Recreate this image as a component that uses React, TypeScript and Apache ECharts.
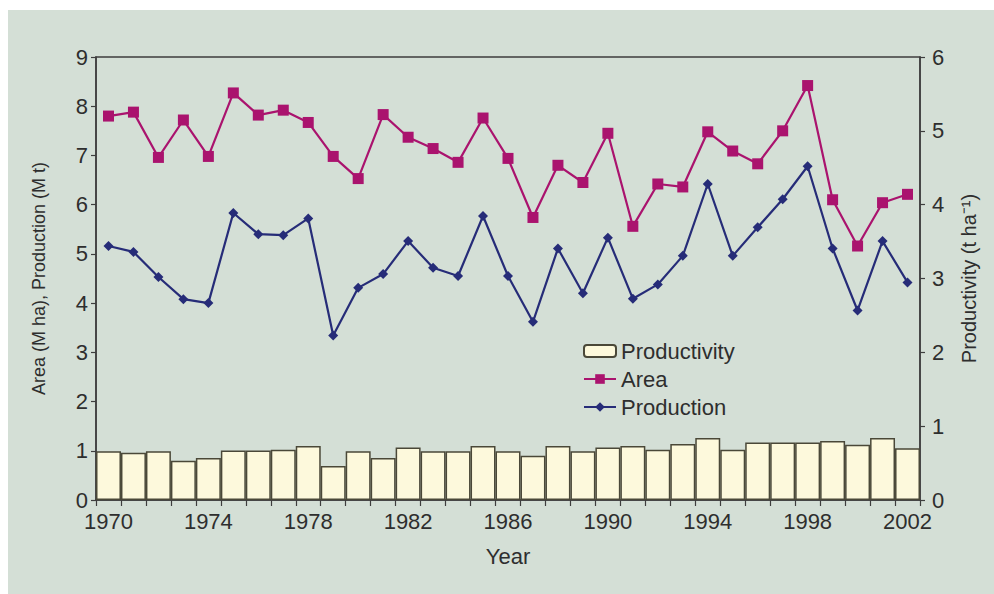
import React, { useEffect, useRef } from "react";
import * as echarts from "echarts";

const years = [
  "1970","1971","1972","1973","1974","1975","1976","1977","1978","1979",
  "1980","1981","1982","1983","1984","1985","1986","1987","1988","1989",
  "1990","1991","1992","1993","1994","1995","1996","1997","1998","1999",
  "2000","2001","2002",
];

const areaValues = [
  7.8, 7.88, 6.96, 7.72, 6.98, 8.27, 7.82, 7.92, 7.67, 6.98,
  6.53, 7.83, 7.37, 7.14, 6.86, 7.76, 6.94, 5.74, 6.8, 6.45,
  7.45, 5.56, 6.42, 6.36, 7.48, 7.09, 6.83, 7.5, 8.42, 6.1,
  5.16, 6.04, 6.21,
];

const productionValues = [
  5.16, 5.04, 4.53, 4.08, 4.0, 5.83, 5.4, 5.38, 5.72, 3.34,
  4.31, 4.59, 5.26, 4.72, 4.55, 5.77, 4.55, 3.62, 5.11, 4.2,
  5.33, 4.09, 4.38, 4.96, 6.42, 4.96, 5.54, 6.11, 6.78, 5.11,
  3.85, 5.26, 4.42,
];

const productivityValues = [
  0.66, 0.64, 0.66, 0.53, 0.57, 0.67, 0.67, 0.68, 0.73, 0.46,
  0.66, 0.57, 0.71, 0.66, 0.66, 0.73, 0.66, 0.6, 0.73, 0.66,
  0.71, 0.73, 0.68, 0.76, 0.84, 0.68, 0.78, 0.78, 0.78, 0.8,
  0.75, 0.84, 0.7,
];

const FONT = "'Liberation Sans', Arial, sans-serif";
const TEXT = "#2e2e2e";
const AXIS = "#3e3e3e";

export default function App() {
  const ref = useRef<HTMLDivElement>(null);

  useEffect(() => {
    if (!ref.current) return;
    const chart = echarts.init(ref.current, undefined, { renderer: "svg" });
    chart.setOption({
      animation: false,
      backgroundColor: "transparent",
      textStyle: { fontFamily: FONT, color: TEXT },
      grid: {
        left: 96,
        right: 74,
        top: 57,
        bottom: 94,
        show: true,
        backgroundColor: "transparent",
        borderColor: AXIS,
        borderWidth: 1.5,
      },
      legend: {
        orient: "vertical",
        left: 578,
        top: 335,
        itemWidth: 32,
        itemHeight: 12,
        itemGap: 6,
        textStyle: { fontFamily: FONT, fontSize: 22, color: TEXT },
        data: ["Productivity", "Area", "Production"],
      },
      xAxis: {
        type: "category",
        data: years,
        boundaryGap: true,
        name: "Year",
        nameLocation: "middle",
        nameGap: 45,
        nameTextStyle: { fontFamily: FONT, fontSize: 22, color: TEXT },
        axisLine: { lineStyle: { color: AXIS, width: 1.5 } },
        axisTick: { show: true, interval: 0, length: 6, lineStyle: { color: AXIS, width: 1.2 } },
        axisLabel: { interval: 3, fontFamily: FONT, fontSize: 22, color: TEXT, margin: 10 },
        splitLine: { show: false },
      },
      yAxis: [
        {
          type: "value",
          min: 0,
          max: 9,
          interval: 1,
          name: "Area (M ha), Production (M t)",
          nameLocation: "middle",
          nameGap: 48,
          nameRotate: 90,
          nameTextStyle: { fontFamily: FONT, fontSize: 18, color: TEXT },
          axisLine: { show: true, lineStyle: { color: AXIS, width: 1.5 } },
          axisTick: { show: true, length: 5, lineStyle: { color: AXIS, width: 1.2 } },
          axisLabel: { fontFamily: FONT, fontSize: 22, color: TEXT, margin: 8 },
          splitLine: { show: false },
        },
        {
          type: "value",
          min: 0,
          max: 6,
          interval: 1,
          position: "right",
          name: "Productivity (t ha\u207B\u00B9)",
          nameLocation: "middle",
          nameGap: 39,
          nameRotate: 90,
          nameTextStyle: { fontFamily: FONT, fontSize: 20, color: TEXT },
          axisLine: { show: true, lineStyle: { color: AXIS, width: 1.5 } },
          axisTick: { show: true, length: 5, lineStyle: { color: AXIS, width: 1.2 } },
          axisLabel: { fontFamily: FONT, fontSize: 22, color: TEXT, margin: 12 },
          splitLine: { show: false },
        },
      ],
      series: [
        {
          name: "Productivity",
          type: "bar",
          yAxisIndex: 1,
          data: productivityValues,
          barCategoryGap: "0%",
          itemStyle: { color: "#fdf9dc", borderColor: "#4a4838", borderWidth: 1.5 },
          z: 1,
        },
        {
          name: "Area",
          type: "line",
          yAxisIndex: 0,
          data: areaValues,
          symbol: "rect",
          symbolSize: 11,
          color: "#aa136e",
          lineStyle: { color: "#aa136e", width: 2.2 },
          itemStyle: { color: "#aa136e" },
          z: 3,
        },
        {
          name: "Production",
          type: "line",
          yAxisIndex: 0,
          data: productionValues,
          symbol: "diamond",
          symbolSize: 10,
          color: "#262c78",
          lineStyle: { color: "#262c78", width: 2.2 },
          itemStyle: { color: "#262c78" },
          z: 3,
        },
      ],
    });
    return () => chart.dispose();
  }, []);

  return (
    <div style={{ position: "absolute", left: 0, top: 0, width: 994, height: 594, background: "#ffffff" }}>
      <div style={{ position: "absolute", left: 8, top: 10, width: 986, height: 584, background: "#d4dfd6" }} />
      <div ref={ref} style={{ position: "absolute", left: 0, top: 0, width: 994, height: 594 }} />
    </div>
  );
}
